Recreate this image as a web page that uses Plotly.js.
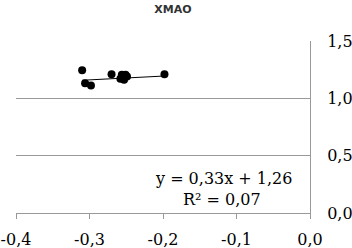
<!DOCTYPE html>
<html><head><meta charset="utf-8">
<script src="https://cdn.plot.ly/plotly-3.0.1.min.js"></script>
<style>html,body{margin:0;padding:0;background:#fff}#c{width:352px;height:248px}</style>
</head><body><div id="c"></div>
<script>
const xVals = [-0.310, -0.306, -0.298, -0.270, -0.256, -0.251, -0.258, -0.253, -0.249, -0.198];
const yVals = [1.246, 1.132, 1.112, 1.211, 1.205, 1.205, 1.170, 1.161, 1.190, 1.211];
const slope = 0.33, intercept = 1.26, r2 = 0.07;
const titleText = 'XMAO';
const xTicks = [-0.4, -0.3, -0.2, -0.1, 0.0];
const xTickLabels = ['-0,4', '-0,3', '-0,2', '-0,1', '0,0'];
const yTicks = [0.0, 0.5, 1.0, 1.5];
const yTickLabels = ['0,0', '0,5', '1,0', '1,5'];

const xmin = Math.min(...xVals), xmax = Math.max(...xVals);
const fmt = v => v.toFixed(2).replace('.', ',');
const traces = [
  {x: xVals, y: yVals, type: 'scatter', mode: 'markers',
   marker: {color: '#000', size: 8}, hoverinfo: 'none'},
  {x: [xmin, xmax], y: [slope*xmin+intercept, slope*xmax+intercept], type: 'scatter', mode: 'lines',
   line: {color: '#000', width: 1}, hoverinfo: 'none'}
];
const serif = 'DejaVu Serif, serif';
const layout = {
  width: 352, height: 248,
  margin: {l: 16, r: 42, t: 41, b: 35},
  paper_bgcolor: '#fff', plot_bgcolor: '#fff',
  showlegend: false,
  title: {text: '<b>' + titleText + '</b>', font: {family: 'DejaVu Sans, sans-serif', size: 11, color: '#333'},
          x: 173/352, xanchor: 'center', y: 1 - 9/248, yanchor: 'middle'},
  xaxis: {range: [-0.4, 0], tickvals: xTicks, ticktext: xTickLabels, showgrid: false, zeroline: false,
          showline: true, linecolor: '#999', linewidth: 1, ticks: 'outside', ticklen: 5, tickcolor: '#999',
          ticklabelstandoff: 7,
          tickfont: {family: serif, size: 16, color: '#000'}, fixedrange: true},
  yaxis: {range: [0, 1.5], tickvals: yTicks, ticktext: yTickLabels, side: 'right', showgrid: true, gridcolor: '#999',
          zeroline: false, showline: true, linecolor: '#999', linewidth: 1, ticks: '',
          ticklabelstandoff: 13,
          tickfont: {family: serif, size: 16, color: '#000'}, fixedrange: true},
  annotations: [
    {xref: 'paper', yref: 'paper', x: 0.707, y: 0.203, xanchor: 'center', yanchor: 'middle', showarrow: false,
     text: 'y = ' + fmt(slope) + 'x + ' + fmt(intercept), font: {family: serif, size: 16, color: '#000'}},
    {xref: 'paper', yref: 'paper', x: 0.699, y: 0.081, xanchor: 'center', yanchor: 'middle', showarrow: false,
     text: 'R² = ' + fmt(r2), font: {family: serif, size: 16, color: '#000'}}
  ]
};
Plotly.newPlot('c', traces, layout, {staticPlot: true});
</script></body></html>
